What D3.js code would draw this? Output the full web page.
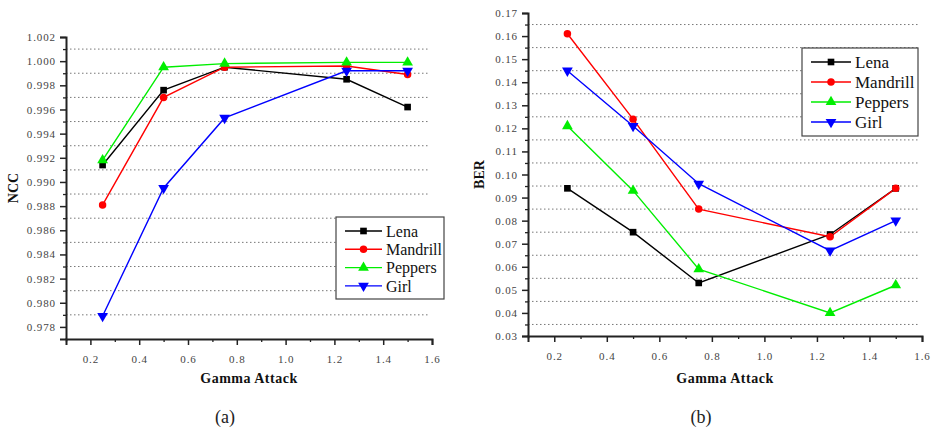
<!DOCTYPE html>
<html>
<head>
<meta charset="utf-8">
<script src="https://cdn.jsdelivr.net/npm/d3@7"></script>
<style>
  body { margin: 0; background: #fff; }
  svg { display: block; }
</style>
</head>
<body>
<div id="chart"></div>
<script>
var gamma = [0.25, 0.5, 0.75, 1.25, 1.5];
var names = ['Lena', 'Mandrill', 'Peppers', 'Girl'];
var colors = ['#000000', '#ff0000', '#00ee00', '#0000ff'];
var shapes = ['square', 'circle', 'up', 'down'];

var nccLena     = [0.9914, 0.9976, 0.9995, 0.9985, 0.9962];
var nccMandrill = [0.9881, 0.9970, 0.9995, 0.9996, 0.9989];
var nccPeppers  = [0.9918, 0.9995, 0.9998, 0.9999, 0.9999];
var nccGirl     = [0.9789, 0.9895, 0.9953, 0.9992, 0.9992];

var berLena     = [0.094, 0.075, 0.053, 0.074, 0.094];
var berMandrill = [0.161, 0.124, 0.085, 0.073, 0.094];
var berPeppers  = [0.121, 0.093, 0.059, 0.040, 0.052];
var berGirl     = [0.145, 0.121, 0.096, 0.067, 0.080];

var xTicks = [0.2, 0.4, 0.6, 0.8, 1.0, 1.2, 1.4, 1.6];
var xMinor = [0.1, 0.3, 0.5, 0.7, 0.9, 1.1, 1.3, 1.5];
var nccTicks = [0.978, 0.980, 0.982, 0.984, 0.986, 0.988, 0.990, 0.992, 0.994, 0.996, 0.998, 1.000, 1.002];
var nccGrid  = [0.979, 0.981, 0.983, 0.985, 0.987, 0.989, 0.991, 0.993, 0.995, 0.997, 0.999, 1.001];
var berTicks = [0.03, 0.04, 0.05, 0.06, 0.07, 0.08, 0.09, 0.10, 0.11, 0.12, 0.13, 0.14, 0.15, 0.16, 0.17];
var berGrid  = [0.035, 0.045, 0.055, 0.065, 0.075, 0.085, 0.095, 0.105, 0.115, 0.125, 0.135, 0.145, 0.155, 0.165];

var serif = "'Liberation Serif', 'Times New Roman', serif";

var svg = d3.select("#chart").append("svg")
    .attr("width", 932)
    .attr("height", 431);

drawPanel({
  left: 66, right: 432, top: 37, bottom: 339,
  yDomain: [0.977, 1.002], yTicks: nccTicks, yGrid: nccGrid, yFmt: d3.format(".3f"),
  series: [nccLena, nccMandrill, nccPeppers, nccGirl],
  yLabel: "NCC", yLabelX: 13, cap: "(a)", capX: 225,
  legend: {x: 336, y: 217, w: 108, h: 82, rowH: 18.3, fs: 16, line: 37}
});

drawPanel({
  left: 528, right: 922, top: 13, bottom: 336,
  yDomain: [0.03, 0.17], yTicks: berTicks, yGrid: berGrid, yFmt: d3.format(".2f"),
  series: [berLena, berMandrill, berPeppers, berGirl],
  yLabel: "BER", yLabelX: 479, cap: "(b)", capX: 701,
  legend: {x: 802, y: 48, w: 116, h: 88, rowH: 20, fs: 17, line: 40}
});

function symbolFor(s) {
  if (s == 'square') return d3.symbol().type(d3.symbolSquare).size(44)();
  if (s == 'circle') return d3.symbol().type(d3.symbolCircle).size(44)();
  return d3.symbol().type(d3.symbolTriangle).size(50)();
}

function styleAxis(g, w) {
  g.attr("font-family", serif).attr("font-size", 11);
  g.select(".domain").attr("stroke", "#222").attr("stroke-width", 2);
  g.selectAll(".tick line").attr("stroke", "#222").attr("stroke-width", w);
  g.selectAll(".tick text").attr("fill", "#444").style("letter-spacing", "0.9px");
}

function drawPanel(p) {
  var x = d3.scaleLinear().domain([0.1, 1.6]).range([p.left, p.right]),
      y = d3.scaleLinear().domain(p.yDomain).range([p.bottom, p.top]);

  // dotted grid, halfway between labelled ticks
  svg.append("g")
    .selectAll("line")
    .data(p.yGrid)
    .enter().append("line")
      .attr("x1", p.left)
      .attr("x2", p.right - 2)
      .attr("y1", function(d){ return y(d); })
      .attr("y2", function(d){ return y(d); })
      .attr("stroke", "#777")
      .attr("stroke-width", 1)
      .attr("stroke-dasharray", "1.5,2.5");

  // minor ticks
  svg.append("g")
      .attr("transform", "translate(" + p.left + ",0)")
      .call(d3.axisLeft(y).tickValues(p.yGrid).tickSize(3).tickFormat(""))
      .call(function(g){ styleAxis(g, 1.3); g.select(".domain").remove(); });
  svg.append("g")
      .attr("transform", "translate(0," + p.bottom + ")")
      .call(d3.axisBottom(x).tickValues(xMinor).tickSize(3).tickFormat(""))
      .call(function(g){ styleAxis(g, 1.3); g.select(".domain").remove(); });

  svg.append("g")
      .attr("transform", "translate(" + p.left + ",0)")
      .call(d3.axisLeft(y).tickValues(p.yTicks).tickSizeOuter(0).tickSize(6).tickPadding(4).tickFormat(p.yFmt))
      .call(function(g){ styleAxis(g, 1.5); });

  svg.append("g")
      .attr("transform", "translate(0," + p.bottom + ")")
      .call(d3.axisBottom(x).tickValues(xTicks).tickSizeOuter(0).tickSize(6).tickPadding(10).tickFormat(d3.format(".1f")))
      .call(function(g){ styleAxis(g, 1.5); });

  var line = d3.line()
      .x(function(d, i){ return x(gamma[i]); })
      .y(function(d){ return y(d); });

  p.series.forEach(function(s, k) {
    svg.append("path")
      .datum(s)
      .attr("fill", "none")
      .attr("stroke", colors[k])
      .attr("stroke-width", 1.4)
      .attr("d", line);
  });
  p.series.forEach(function(s, k) {
    svg.append("g").selectAll("path")
      .data(s).enter()
      .append("path")
        .attr("d", symbolFor(shapes[k]))
        .attr("fill", colors[k])
        .attr("transform", function(d, i){
          return "translate(" + x(gamma[i]) + "," + y(d) + ")" + (shapes[k] == 'down' ? " rotate(180)" : "");
        });
  });

  svg.append("text")
    .attr("transform", "translate(" + p.yLabelX + "," + ((p.top + p.bottom) / 2) + ") rotate(-90)")
    .attr("text-anchor", "middle")
    .attr("dy", "0.35em")
    .attr("font-family", serif)
    .attr("font-weight", "bold")
    .attr("font-size", 14)
    .attr("fill", "#111")
    .text(p.yLabel);

  svg.append("text")
    .attr("x", (p.left + p.right) / 2)
    .attr("y", 383)
    .attr("text-anchor", "middle")
    .attr("font-family", serif)
    .attr("font-weight", "bold")
    .attr("font-size", 14)
    .attr("fill", "#111")
    .style("letter-spacing", "0.5px")
    .text("Gamma Attack");

  svg.append("text")
    .attr("x", p.capX)
    .attr("y", 423)
    .attr("text-anchor", "middle")
    .attr("font-family", serif)
    .attr("font-size", 18)
    .attr("fill", "#222")
    .text(p.cap);

  var L = p.legend;
  var leg = svg.append("g");
  leg.append("rect")
    .attr("x", L.x).attr("y", L.y)
    .attr("width", L.w).attr("height", L.h)
    .attr("fill", "#fff")
    .attr("stroke", "#444")
    .attr("stroke-width", 1.2);
  names.forEach(function(n, k) {
    var cy = L.y + 14 + k * L.rowH,
        lx = L.x + 9;
    leg.append("line")
      .attr("x1", lx).attr("x2", lx + L.line)
      .attr("y1", cy).attr("y2", cy)
      .attr("stroke", colors[k]).attr("stroke-width", 1.4);
    leg.append("path")
      .attr("d", symbolFor(shapes[k]))
      .attr("fill", colors[k])
      .attr("transform", "translate(" + (lx + L.line / 2) + "," + cy + ")" + (shapes[k] == 'down' ? " rotate(180)" : ""));
    leg.append("text")
      .attr("x", lx + L.line + 4)
      .attr("y", cy)
      .attr("dy", "0.35em")
      .attr("font-family", serif)
      .attr("font-size", L.fs)
      .attr("fill", "#111")
      .text(n);
  });
}
</script>
</body>
</html>
